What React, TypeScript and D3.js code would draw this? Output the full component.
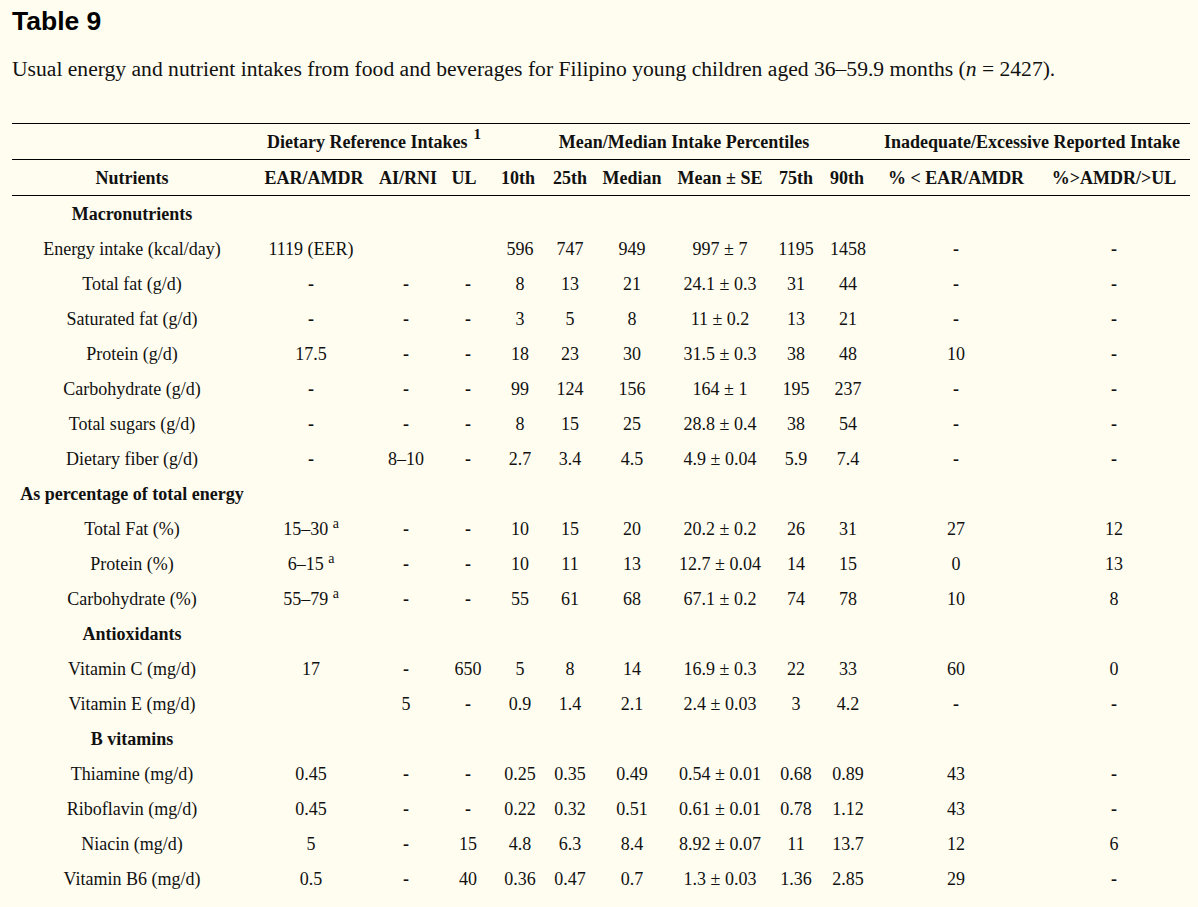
import React, { useEffect, useRef } from "react";
import * as d3 from "d3";

const tableTitle = "Table 9";
const captionBefore = "Usual energy and nutrient intakes from food and beverages for Filipino young children aged 36–59.9 months (";
const captionItalic = "n";
const captionAfter = " = 2427).";

const groupHeaders = ["Dietary Reference Intakes", "Mean/Median Intake Percentiles", "Inadequate/Excessive Reported Intake"];
const groupNotes = ["1", "", ""];
const columnHeaders = ["Nutrients", "EAR/AMDR", "AI/RNI", "UL", "10th", "25th", "Median", "Mean ± SE", "75th", "90th", "% < EAR/AMDR", "%>AMDR/>UL"];

const sectionTitles = ["Macronutrients", "As percentage of total energy", "Antioxidants", "B vitamins"];
const sectionStarts = [0, 7, 10, 12];

const nutrients = [
  "Energy intake (kcal/day)", "Total fat (g/d)", "Saturated fat (g/d)", "Protein (g/d)", "Carbohydrate (g/d)",
  "Total sugars (g/d)", "Dietary fiber (g/d)", "Total Fat (%)", "Protein (%)", "Carbohydrate (%)",
  "Vitamin C (mg/d)", "Vitamin E (mg/d)", "Thiamine (mg/d)", "Riboflavin (mg/d)", "Niacin (mg/d)", "Vitamin B6 (mg/d)",
];
const earAmdr = ["1119 (EER)", "-", "-", "17.5", "-", "-", "-", "15–30", "6–15", "55–79", "17", "", "0.45", "0.45", "5", "0.5"];
const earNotes = ["", "", "", "", "", "", "", "a", "a", "a", "", "", "", "", "", ""];
const aiRni = ["", "-", "-", "-", "-", "-", "8–10", "-", "-", "-", "-", "5", "-", "-", "-", "-"];
const ul = ["", "-", "-", "-", "-", "-", "-", "-", "-", "-", "650", "-", "-", "-", "15", "40"];
const p10 = ["596", "8", "3", "18", "99", "8", "2.7", "10", "10", "55", "5", "0.9", "0.25", "0.22", "4.8", "0.36"];
const p25 = ["747", "13", "5", "23", "124", "15", "3.4", "15", "11", "61", "8", "1.4", "0.35", "0.32", "6.3", "0.47"];
const median = ["949", "21", "8", "30", "156", "25", "4.5", "20", "13", "68", "14", "2.1", "0.49", "0.51", "8.4", "0.7"];
const meanSe = ["997 ± 7", "24.1 ± 0.3", "11 ± 0.2", "31.5 ± 0.3", "164 ± 1", "28.8 ± 0.4", "4.9 ± 0.04", "20.2 ± 0.2", "12.7 ± 0.04", "67.1 ± 0.2", "16.9 ± 0.3", "2.4 ± 0.03", "0.54 ± 0.01", "0.61 ± 0.01", "8.92 ± 0.07", "1.3 ± 0.03"];
const p75 = ["1195", "31", "13", "38", "195", "38", "5.9", "26", "14", "74", "22", "3", "0.68", "0.78", "11", "1.36"];
const p90 = ["1458", "44", "21", "48", "237", "54", "7.4", "31", "15", "78", "33", "4.2", "0.89", "1.12", "13.7", "2.85"];
const pctBelow = ["-", "-", "-", "10", "-", "-", "-", "27", "0", "10", "60", "-", "43", "43", "12", "29"];
const pctAbove = ["-", "-", "-", "-", "-", "-", "-", "12", "13", "8", "0", "-", "-", "-", "6", "-"];

const W = 1198;
const H = 907;
const BG = "#fffdf0";
const INK = "#111";
const SERIF = "'Liberation Serif', 'Times New Roman', serif";
const SANS = "'Liberation Sans', Arial, sans-serif";
const FS = 18;

const colCenters = [132, 311, 406, 468, 520, 570, 632, 720, 796, 848, 956, 1114];
const headerCenters = [132, 314, 408, 464, 518, 570, 632, 720, 796, 847, 956, 1114];
const groupCenters = [374, 684, 1032];

export default function App() {
  const ref = useRef<SVGSVGElement>(null);

  useEffect(() => {
    const svg = d3.select(ref.current);
    svg.selectAll("*").remove();

    svg.append("rect").attr("width", W).attr("height", H).attr("fill", BG);

    svg.append("text").attr("x", 12).attr("y", 30)
      .attr("font-family", SANS).attr("font-weight", "bold").attr("font-size", 26.5).attr("fill", "#000")
      .text(tableTitle);

    const cap = svg.append("text").attr("x", 12).attr("y", 76)
      .attr("font-family", SERIF).attr("font-size", 21.6).attr("fill", INK);
    cap.append("tspan").text(captionBefore);
    cap.append("tspan").attr("font-style", "italic").text(captionItalic);
    cap.append("tspan").text(captionAfter);

    const ruleYs = [123, 159, 195];
    svg.selectAll("line.rule").data(ruleYs).join("line")
      .attr("class", "rule")
      .attr("x1", 12).attr("x2", 1190)
      .attr("y1", (d) => d + 0.5).attr("y2", (d) => d + 0.5)
      .attr("stroke", "#000").attr("stroke-width", 1);

    const x = d3.scaleOrdinal<number, number>().domain(d3.range(colCenters.length)).range(colCenters);
    const xh = d3.scaleOrdinal<number, number>().domain(d3.range(headerCenters.length)).range(headerCenters);

    const base = 7;
    const g1 = svg.append("g").attr("font-family", SERIF).attr("font-weight", "bold").attr("font-size", FS).attr("fill", INK);
    groupHeaders.forEach((h, i) => {
      const t = g1.append("text").attr("x", groupCenters[i]).attr("y", 141 + base).attr("text-anchor", "middle");
      t.append("tspan").text(h);
      if (groupNotes[i]) {
        t.append("tspan").attr("font-size", 15).attr("dx", 6).attr("dy", -9).text(groupNotes[i]);
      }
    });

    const g2 = svg.append("g").attr("font-family", SERIF).attr("font-weight", "bold").attr("font-size", FS).attr("fill", INK);
    g2.selectAll("text").data(columnHeaders).join("text")
      .attr("x", (_, i) => xh(i)).attr("y", 177 + base).attr("text-anchor", "middle")
      .text((d) => d);

    type Row = { section?: string; idx?: number };
    const rows: Row[] = [];
    nutrients.forEach((_, i) => {
      const s = sectionStarts.indexOf(i);
      if (s >= 0) rows.push({ section: sectionTitles[s] });
      rows.push({ idx: i });
    });

    const y = d3.scaleLinear().domain([0, 1]).range([213, 248]);
    const body = svg.append("g").attr("font-family", SERIF).attr("font-size", FS).attr("fill", INK);

    const cols = [nutrients, earAmdr, aiRni, ul, p10, p25, median, meanSe, p75, p90, pctBelow, pctAbove];

    rows.forEach((r, ri) => {
      const yy = y(ri) + base;
      if (r.section) {
        body.append("text").attr("x", x(0)).attr("y", yy).attr("text-anchor", "middle")
          .attr("font-weight", "bold").text(r.section);
        return;
      }
      const i = r.idx as number;
      cols.forEach((col, ci) => {
        const v = col[i];
        if (!v) return;
        const t = body.append("text").attr("x", x(ci)).attr("y", yy).attr("text-anchor", "middle");
        if (v === "-") t.attr("font-weight", "bold");
        t.append("tspan").text(v);
        if (ci === 1 && earNotes[i]) {
          t.append("tspan").text(" ");
          t.append("tspan").attr("font-size", 14).attr("dy", -7).text(earNotes[i]);
        }
      });
    });
  }, []);

  return (
    <svg ref={ref} width={W} height={H} style={{ position: "absolute", left: 0, top: 0, display: "block" }} />
  );
}
